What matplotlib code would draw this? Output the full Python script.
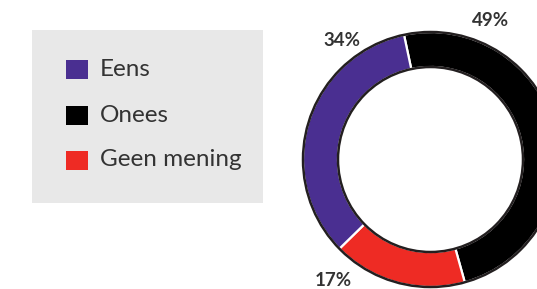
import matplotlib
matplotlib.use("Agg")
import matplotlib.pyplot as plt
from matplotlib.patches import Rectangle, Circle

# Data
categories = ["Eens", "Onees", "Geen mening"]
values = [34, 49, 17]
colors = {"Eens": "#4A2F91", "Onees": "#000000", "Geen mening": "#EE2B24"}
pie_order = ["Onees", "Geen mening", "Eens"]

W, H = 537, 289
fig = plt.figure(figsize=(W / 100, H / 100), dpi=100)
ax = fig.add_axes([0, 0, 1, 1])
ax.set_xlim(0, W)
ax.set_ylim(0, H)
ax.set_aspect("equal")
ax.axis("off")

cx, cy = 430.5, H - 159.5
R, ring = 127.5, 35
vals = [values[categories.index(c)] for c in pie_order]
cols = [colors[c] for c in pie_order]
ax.pie(vals, colors=cols, center=(cx, cy), radius=R, startangle=102,
       counterclock=False, frame=True,
       wedgeprops=dict(width=ring, edgecolor="white", linewidth=1.6))
ax.set_xlim(0, W)
ax.set_ylim(0, H)
ax.axis("off")
for r in (R, R - ring):
    ax.add_patch(Circle((cx, cy), r, fill=False, edgecolor="#231F20", lw=1.8, zorder=5))

# percent labels
lab_font = dict(family=["Lato", "DejaVu Sans"], fontweight="bold", fontsize=13.5, color="#333333",
                ha="center", va="center")
lab_pos = {"Onees": (491, 20), "Eens": (342, 40), "Geen mening": (333, 281)}
for c in categories:
    x, y = lab_pos[c]
    ax.text(x, H - y, f"{values[categories.index(c)]}%", **lab_font)

# legend box
ax.add_patch(Rectangle((32, H - 203), 231, 173, facecolor="#E8E8E8", edgecolor="none"))
rows_y = [69, 115, 160]
for c, y in zip(categories, rows_y):
    ax.add_patch(Rectangle((66, H - y - 9.5), 22, 19, facecolor=colors[c], edgecolor="none"))
    ax.text(100, H - y, c, family=["Lato", "DejaVu Sans"], fontsize=17.5, color="#333333",
            ha="left", va="center")

fig.savefig("out.png", dpi=100)
